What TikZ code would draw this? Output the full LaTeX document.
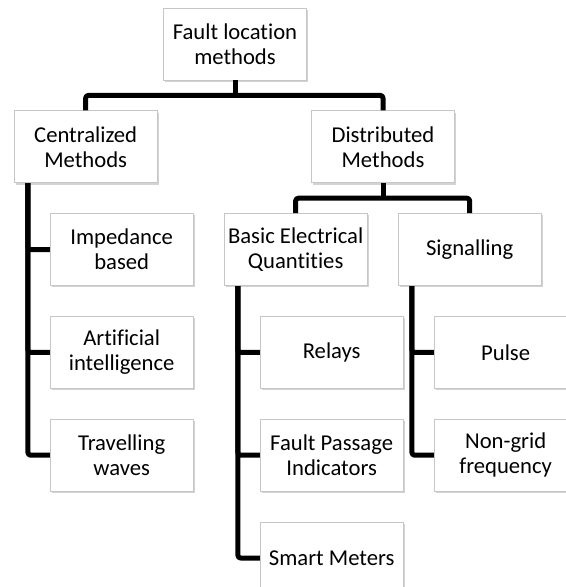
\documentclass[tikz,border=0pt]{standalone}
\usepackage{fontspec}
\setmainfont[Ligatures=NoCommon]{Carlito}
\usetikzlibrary{positioning, shadows}
\tikzset{
  box/.style={rectangle, draw=gray!45, fill=white, line width=0.6pt,
              minimum width=107pt, minimum height=54pt, inner xsep=1pt,
              align=center, font=\fontsize{17}{18.75}\selectfont,
              drop shadow={shadow xshift=1.3pt, shadow yshift=-1.3pt,
                           opacity=0.35}},
  link/.style={line width=3.75pt, line join=round, rounded corners=2pt},
}

\begin{document}
\begin{tikzpicture}[node distance=22.5pt]

  \clip (0,0) rectangle (424.5pt,-440.25pt);

  \node[box] (root) at (176.25pt,-33pt) {Fault location\\methods};

  \node[box, below=of root, xshift=-112pt] (cent) {Centralized\\Methods};
  \node[box, below=of root, xshift=111pt] (dist) {Distributed\\Methods};

  % centralized branch
  \node[box, below=of cent, xshift=27pt] (imp) {Impedance\\based};
  \node[box, below=of imp] (ai) {Artificial\\intelligence};
  \node[box, below=of ai] (trav) {Travelling\\waves};

  % distributed branch
  \node[box, below=of dist, xshift=-65.5pt] (basic) {Basic Electrical\\Quantities};
  \node[box, below=of dist, xshift=65pt] (sig) {Signalling};

  \node[box, below=of basic, xshift=27pt] (relays) {Relays};
  \node[box, below=of relays] (fpi) {Fault Passage\\Indicators};
  \node[box, below=of fpi] (smart) {Smart Meters};

  \node[box, below=of sig, xshift=27pt] (pulse) {Pulse};
  \node[box, below=of pulse] (nongrid) {Non-grid\\frequency};

  % connectors
  \draw[link] (root.south) -- ++(0,-11.25pt);
  \draw[link] (cent.north) -- ++(0,11.25pt) -| (dist.north);

  \draw[link] (dist.south) -- ++(0,-11.25pt);
  \draw[link] (basic.north) -- ++(0,11.25pt) -| (sig.north);

  \draw[link] ([xshift=10.5pt]cent.south west) |- (trav.west);
  \draw[link] ([xshift=10.5pt]cent.south west) |- (ai.west);
  \draw[link] ([xshift=10.5pt]cent.south west) |- (imp.west);

  \draw[link] ([xshift=10.5pt]basic.south west) |- (smart.west);
  \draw[link] ([xshift=10.5pt]basic.south west) |- (fpi.west);
  \draw[link] ([xshift=10.5pt]basic.south west) |- (relays.west);

  \draw[link] ([xshift=10.5pt]sig.south west) |- (nongrid.west);
  \draw[link] ([xshift=10.5pt]sig.south west) |- (pulse.west);

\end{tikzpicture}
\end{document}
